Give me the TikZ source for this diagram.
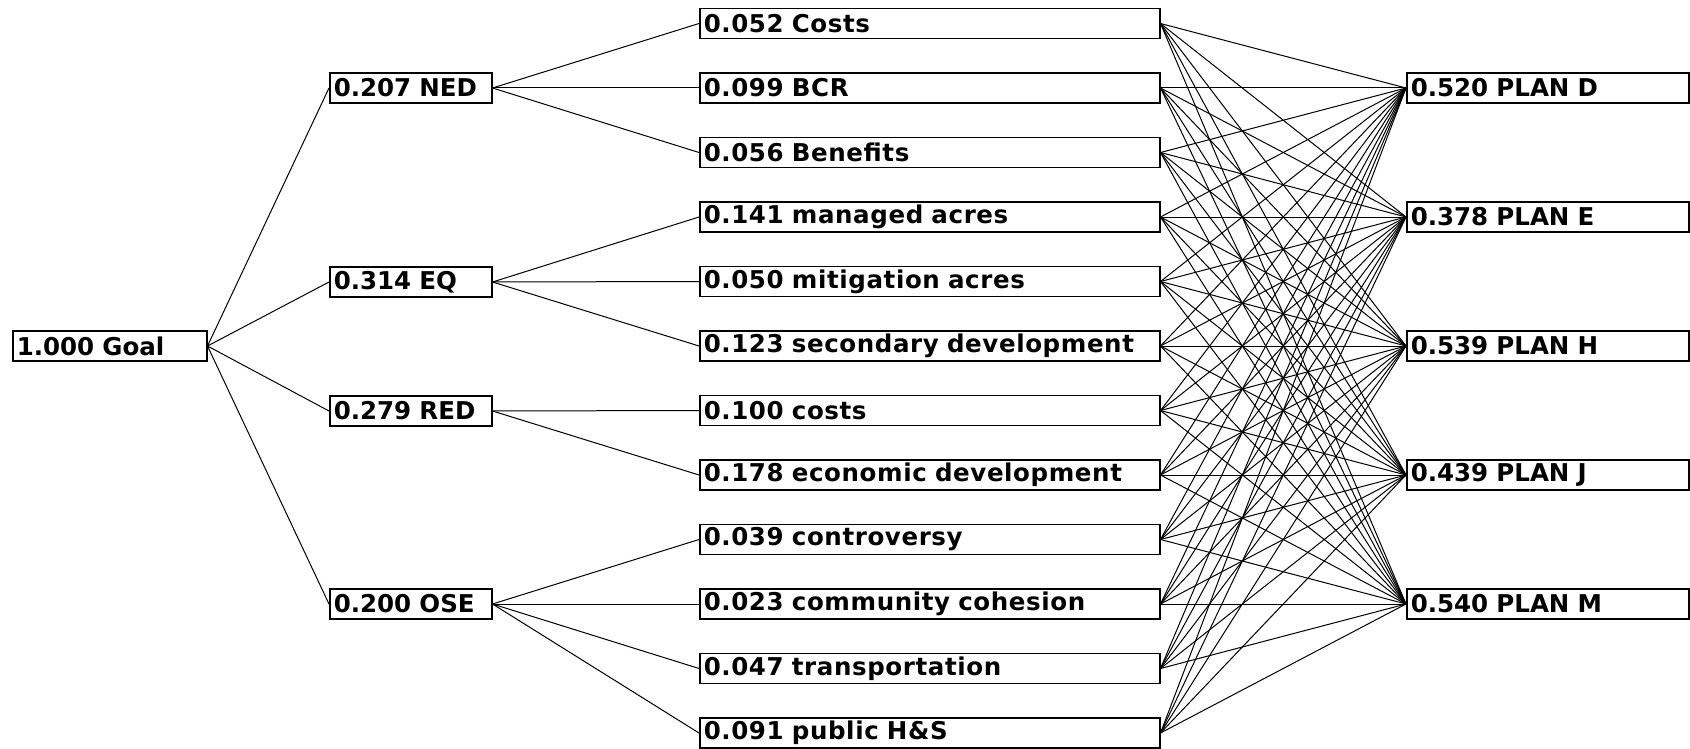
\documentclass[tikz,border=0pt]{standalone}
\usepackage{fontspec}
\setmainfont{DejaVu Sans}
\newfontfamily\critfont[LetterSpace=2.5]{DejaVu Sans}
\usetikzlibrary{positioning}

\tikzset{
  ahpbox/.style={draw, line width=1.5pt, rectangle, anchor=west, inner xsep=4pt,
    inner ysep=0pt, minimum height=30pt, align=left,
    font=\fontsize{24.5}{28}\selectfont\bfseries},
  goalbox/.style={ahpbox, text width=186pt},
  objbox/.style={ahpbox, text width=154pt},
  critbox/.style={ahpbox, text width=452pt,
    font=\critfont\fontsize{24.5}{28}\selectfont\bfseries},
  planbox/.style={ahpbox, text width=274pt},
  link/.style={line width=1pt}
}

\begin{document}
\begin{tikzpicture}[x=1pt, y=-1pt]
  %%%%% START %%%%%
  \useasboundingbox (0,0) rectangle (1690,749);

  \node[goalbox] (goal) at (12, 346) {1.000 Goal};

  \node[objbox] (ned) at (329, 88)  {0.207 NED};
  \node[objbox] (eq)  at (329, 282) {0.314 EQ};
  \node[objbox] (red) at (329, 411) {0.279 RED};
  \node[objbox] (ose) at (329, 604) {0.200 OSE};

  \node[critbox] (c1)  at (699, 23.5)  {0.052 Costs};
  \node[critbox] (c2)  at (699, 88)    {0.099 BCR};
  \node[critbox] (c3)  at (699, 152.5) {0.056 Benefits};
  \node[critbox] (c4)  at (699, 217)   {0.141 managed acres};
  \node[critbox] (c5)  at (699, 281.5) {0.050 mitigation acres};
  \node[critbox] (c6)  at (699, 346)   {0.123 secondary development};
  \node[critbox] (c7)  at (699, 410.5) {0.100 costs};
  \node[critbox] (c8)  at (699, 475)   {0.178 economic development};
  \node[critbox] (c9)  at (699, 539.5) {0.039 controversy};
  \node[critbox] (c10) at (699, 604)   {0.023 community cohesion};
  \node[critbox] (c11) at (699, 668.5) {0.047 transportation};
  \node[critbox] (c12) at (699, 733)   {0.091 public H\&S};

  \node[planbox] (p1) at (1406, 88)  {0.520 PLAN D};
  \node[planbox] (p2) at (1406, 217) {0.378 PLAN E};
  \node[planbox] (p3) at (1406, 346) {0.539 PLAN H};
  \node[planbox] (p4) at (1406, 475) {0.439 PLAN J};
  \node[planbox] (p5) at (1406, 604) {0.540 PLAN M};

  % goal to objectives
  \foreach \a in {ned,eq,red,ose}
    \draw[link] (goal.east) -- (\a.west);

  % objectives to criteria
  \foreach \a/\b in {ned/1,ned/2,ned/3,eq/4,eq/5,eq/6,red/7,red/8,ose/9,ose/10,ose/11,ose/12}
    \draw[link] (\a.east) -- (c\b.west);

  % every criterion to every plan
  \foreach \c in {1,...,12}
    \foreach \p in {1,...,5}
      \draw[link] (c\c.east) -- (p\p.west);
  %%%%% END %%%%%
\end{tikzpicture}
\end{document}
